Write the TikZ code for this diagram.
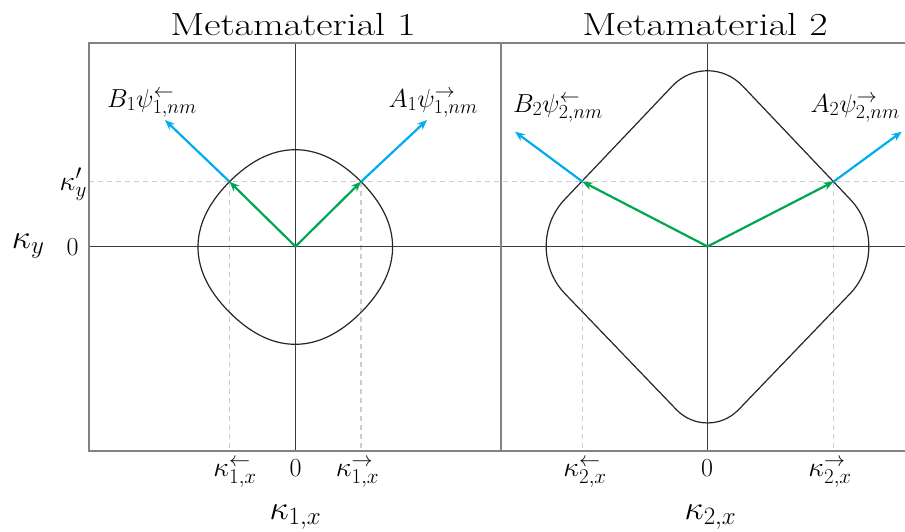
\RequirePackage{fix-cm}
\documentclass[tikz,border=0pt]{standalone}
\usepackage{graphicx}
\usetikzlibrary{arrows.meta,calc}
\DeclareMathSizes{26}{26}{20}{15}
\DeclareMathSizes{28}{28}{21}{15}
\DeclareMathSizes{34}{34}{25}{18}
\definecolor{cblue}{RGB}{0,174,239}
\definecolor{cgreen}{RGB}{0,166,81}
\definecolor{axisgray}{RGB}{60,60,60}
\definecolor{framegray}{RGB}{130,130,130}
\definecolor{dashgray}{RGB}{205,205,205}
\newcommand{\widetitle}[1]{\scalebox{1.25}[1]{#1}}
\begin{document}
\begin{tikzpicture}[x=1pt,y=-1pt,
  frame/.style={draw=framegray,line width=1.5pt},
  divider/.style={draw=framegray,line width=2.5pt},
  axis/.style={draw=axisgray,line width=1.3pt},
  guide/.style={draw=dashgray,line width=1.1pt,dash pattern=on 5pt off 4pt},
  curve/.style={draw=black!85,line width=1.2pt},
  kvec/.style={draw=cgreen,line width=2.2pt,-{Stealth[length=10pt,width=8pt]}},
  svec/.style={draw=cblue,line width=2.2pt,-{Stealth[length=10pt,width=8pt]}},
  title/.style={font=\fontsize{32}{38}\selectfont,inner sep=0pt},
  lbl/.style={font=\fontsize{26}{30}\selectfont,inner sep=0pt},
  tick/.style={font=\fontsize{28}{32}\selectfont,inner sep=0pt},
  big/.style={font=\fontsize{34}{38}\selectfont,inner sep=0pt}]

\useasboundingbox (0,0) rectangle (905,531);
\fill[white] (0,0) rectangle (905,531);

% key coordinates
\coordinate (O1) at (295.5,246.5);
\coordinate (O2) at (707.5,246.5);
\coordinate (P1L) at (229.5,181.7);
\coordinate (P1R) at (361,181.7);
\coordinate (P2L) at (582.5,181.7);
\coordinate (P2R) at (833.5,181.7);
\coordinate (E1L) at (165,120);
\coordinate (E1R) at (427,120);
\coordinate (E2L) at (515,131.7);
\coordinate (E2R) at (901.7,131.7);

% frame corners
\coordinate (FTL) at (89,43);
\coordinate (FBL) at (89,451);
\coordinate (FTR) at (905,43);
\coordinate (FBR) at (905,451);
\coordinate (DT) at (501,43);
\coordinate (DB) at (501,451);

% guides
\coordinate (GL) at (89,181.7);
\coordinate (GR) at (905,181.7);
\draw[guide] (GL) -- (GR);
\draw[guide] (P1L) -- (P1L |- FBL);
\draw[guide] (P1R) -- (P1R |- FBL);
\draw[guide] (P2L) -- (P2L |- FBL);
\draw[guide] (P2R) -- (P2R |- FBL);

% axes
\draw[axis] (O1 |- FTL) -- (O1 |- FBL);
\draw[axis] (O1 -| FTL) -- (O1 -| DT);
\draw[axis] (O2 |- FTL) -- (O2 |- FBL);
\draw[axis] (O2 -| DT) -- (O2 -| FTR);

% frame
\draw[frame] (FTR) -- (FTL) -- (FBL) -- (FBR);
\draw[divider] (DT) -- (DB);

% curve 1
\draw[curve] plot[domain=0:360,samples=181,variable=\t]
  ({295.3+(95+2.3*cos(4*\t))*cos(\t)},{247-(95+2.3*cos(4*\t))*sin(\t)}) -- cycle;

% curve 2 : rounded diamond
\coordinate (T) at (707.5,49);
\coordinate (R) at (895.2,246.7);
\coordinate (B) at (707.5,442);
\coordinate (L) at (519.8,246.7);
\coordinate (tT1) at ($(T)!51pt!(L)$);
\coordinate (tT2) at ($(T)!51pt!(R)$);
\coordinate (tR1) at ($(R)!65pt!(T)$);
\coordinate (tR2) at ($(R)!65pt!(B)$);
\coordinate (tB1) at ($(B)!45pt!(R)$);
\coordinate (tB2) at ($(B)!45pt!(L)$);
\coordinate (tL1) at ($(L)!65pt!(B)$);
\coordinate (tL2) at ($(L)!65pt!(T)$);
\draw[curve] (tT2) -- (tR1)
  .. controls ($(tR1)!0.55!(R)$) and ($(tR2)!0.55!(R)$) .. (tR2) -- (tB1)
  .. controls ($(tB1)!0.55!(B)$) and ($(tB2)!0.55!(B)$) .. (tB2) -- (tL1)
  .. controls ($(tL1)!0.55!(L)$) and ($(tL2)!0.55!(L)$) .. (tL2) -- (tT1)
  .. controls ($(tT1)!0.55!(T)$) and ($(tT2)!0.55!(T)$) .. (tT2) -- cycle;

% vectors
\draw[svec] (P1L) -- (E1L);
\draw[svec] (P1R) -- (E1R);
\draw[svec] (P2L) -- (E2L);
\draw[svec] (P2R) -- (E2R);
\draw[kvec] (O1) -- (P1L);
\draw[kvec] (O1) -- (P1R);
\draw[kvec] (O2) -- (P2L);
\draw[kvec] (O2) -- (P2R);

% titles
\node[title,anchor=base] (t1) at (293,35) {\widetitle{Metamaterial 1}};
\node[title,anchor=base] (t2) at (705,35) {\widetitle{Metamaterial 2}};

% wave labels
\node[lbl,anchor=base west] (b1) at (107,107) {$B_1\psi^{\leftarrow}_{1,nm}$};
\node[lbl,anchor=base east] (a1) at (478,107) {$A_1\psi^{\rightarrow}_{1,nm}$};
\node[lbl,anchor=base west] (b2) at (513,112) {$B_2\psi^{\leftarrow}_{2,nm}$};
\node[lbl,anchor=base east] (a2) at (900,112) {$A_2\psi^{\rightarrow}_{2,nm}$};

% y labels
\node[big,anchor=base west] (ky) at (11.7,248.3) {$\kappa_y$};
\node[lbl,anchor=base] (y0) at (72.5,255) {$0$};
\node[tick,anchor=base east] (kyp) at (87,190) {$\kappa'_y$};

% x tick labels
\node[tick,anchor=base] (k1l) at (235,476.7) {$\kappa^{\leftarrow}_{1,x}$};
\node[lbl,anchor=base] (x10) at (295.5,476.7) {$0$};
\node[tick,anchor=base] (k1r) at (357.5,476.7) {$\kappa^{\rightarrow}_{1,x}$};
\node[tick,anchor=base] (k2l) at (585,476.7) {$\kappa^{\leftarrow}_{2,x}$};
\node[lbl,anchor=base] (x20) at (707,476.7) {$0$};
\node[tick,anchor=base] (k2r) at (830,476.7) {$\kappa^{\rightarrow}_{2,x}$};

% axis labels
\node[big,anchor=base] (k1x) at (295.5,519) {$\kappa_{1,x}$};
\node[big,anchor=base] (k2x) at (710.5,519) {$\kappa_{2,x}$};
\end{tikzpicture}
\end{document}
